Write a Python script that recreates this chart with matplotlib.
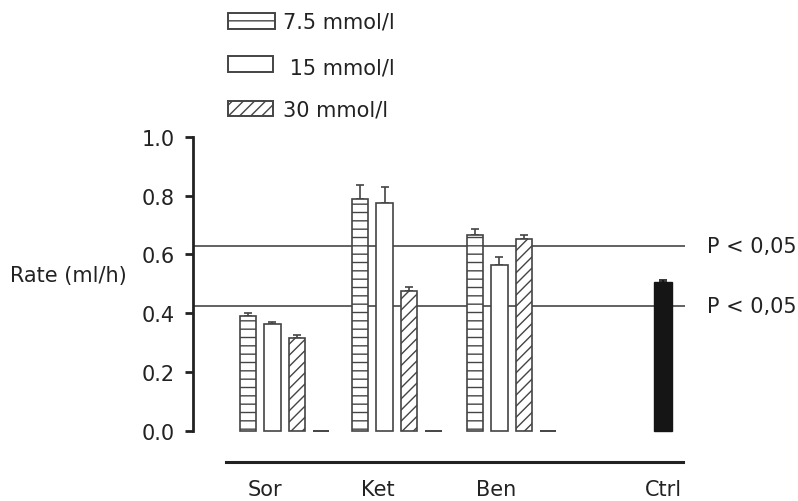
import matplotlib
matplotlib.use('Agg')
import matplotlib.pyplot as plt
from matplotlib.patches import Rectangle

# data
groups = ['Sor', 'Ket', 'Ben']
conc_labels = ['7.5 mmol/l', ' 15 mmol/l', '30 mmol/l']
rate_7_5 = [0.392, 0.790, 0.665]
rate_15 = [0.364, 0.775, 0.565]
rate_30 = [0.317, 0.477, 0.651]
rate_blank = [0.0, 0.0, 0.0]
err_7_5 = [0.009, 0.045, 0.020]
err_15 = [0.007, 0.055, 0.025]
err_30 = [0.007, 0.012, 0.016]
ctrl_rate = 0.506
ctrl_err = 0.008
p_levels = [0.63, 0.424]
y_ticks = [0.0, 0.2, 0.4, 0.6, 0.8, 1.0]

fs = 15
txt = '#222222'
edge = '#444444'
W, H = 798, 502

fig = plt.figure(figsize=(W / 100, H / 100), dpi=100)
ax = fig.add_axes([193 / W, 1 - 463 / H, 492 / W, 325 / H])

group_start = [0.0, 4.6, 9.3]
ctrl_x = 17.0
bw = 0.67

series = [(rate_7_5, err_7_5, '--', 'white'),
          (rate_15, err_15, '', 'white'),
          (rate_30, err_30, '///', 'white')]

for k, (vals, errs, hatch, fc) in enumerate(series):
    xs = [g + k for g in group_start]
    ax.bar(xs, vals, width=bw, color=fc, edgecolor=edge, hatch=hatch,
           linewidth=1.2, zorder=3)
    ax.errorbar(xs, vals, yerr=[[0] * len(errs), errs], fmt='none',
                ecolor=edge, elinewidth=1.2, capsize=3.2, capthick=1.2, zorder=2)

# empty fourth slot drawn as a flat line at zero
xs = [g + 3 for g in group_start]
ax.bar(xs, rate_blank, width=bw, color='white', edgecolor=edge,
       linewidth=1.4, zorder=3)

ax.bar([ctrl_x], [ctrl_rate], width=0.71, color='#151515', edgecolor='#151515', zorder=3)
ax.errorbar([ctrl_x], [ctrl_rate], yerr=[[0], [ctrl_err]], fmt='none',
            ecolor='#151515', elinewidth=1.2, capsize=3.2, capthick=1.2, zorder=2)

ax.hlines(p_levels, -2.25, 17.9, color='#555555', linewidth=1.3, zorder=1)
for p in p_levels:
    ax.text(18.8, p, 'P < 0,05', fontsize=fs, color=txt, va='center',
            ha='left', clip_on=False)

ax.set_xlim(-2.25, 17.9)
ax.set_ylim(-0.107, 1.0)

for s in ['top', 'right']:
    ax.spines[s].set_visible(False)
ax.spines['left'].set_bounds(0, 1)
ax.spines['left'].set_linewidth(2)
ax.spines['left'].set_color('#222222')
ax.spines['bottom'].set_bounds(-0.88, 17.83)
ax.spines['bottom'].set_linewidth(2.2)
ax.spines['bottom'].set_color('#222222')

ax.set_yticks(y_ticks)
ax.set_yticklabels(['%.1f' % t for t in y_ticks])
ax.tick_params(axis='y', length=6, width=2, pad=7, labelsize=fs,
               labelcolor=txt, color='#222222')

ax.set_xticks([0.7, 5.33, 10.16, 17.0])
ax.set_xticklabels(groups + ['Ctrl'])
ax.tick_params(axis='x', length=0, pad=12, labelsize=fs, labelcolor=txt)

fig.text(10 / W, 1 - 276 / H, 'Rate (ml/h)', fontsize=fs, color=txt, va='center')

# legend drawn by hand, stacked at the top
leg_rects = [(228, 14, 47, 16), (228, 57, 45, 16), (228, 102, 45, 15)]
leg_text = [(283, 23), (283, 68), (283, 111)]
leg_hatch = ['--', '', '///']
for (x, y, w, h), (tx, ty), hatch, lab in zip(leg_rects, leg_text, leg_hatch, conc_labels):
    fig.add_artist(Rectangle((x / W, 1 - (y + h) / H), w / W, h / H,
                             transform=fig.transFigure, facecolor='white',
                             edgecolor=edge, hatch=hatch, linewidth=1.4))
    fig.text(tx / W, 1 - ty / H, lab, fontsize=fs, color=txt, va='center')

fig.savefig('out.png', dpi=100)
